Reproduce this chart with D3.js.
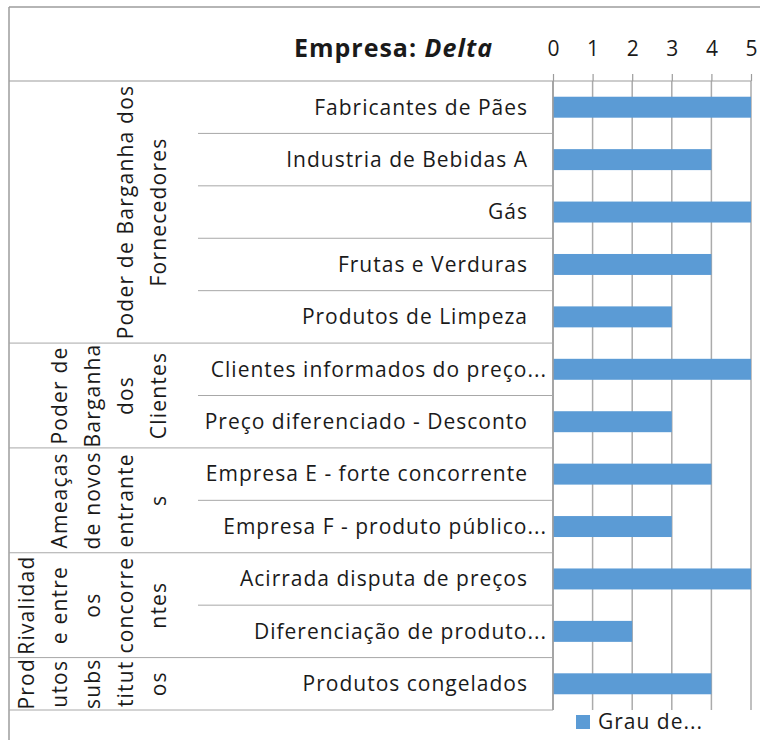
<!DOCTYPE html>
<html>
<head>
<meta charset="utf-8">
<script src="https://cdn.jsdelivr.net/npm/d3@7"></script>
<style>
  body { margin: 0; background: #fff; }
  svg text { font-family: "Open Sans", sans-serif; fill: #1a1a1a; }
</style>
</head>
<body>
<svg id="chart" width="760" height="740"></svg>
<script>
// data
const categories = [
  "Fabricantes de Pães", "Industria de Bebidas A", "Gás", "Frutas e Verduras",
  "Produtos de Limpeza", "Clientes informados do preço...", "Preço diferenciado - Desconto",
  "Empresa E - forte concorrente", "Empresa F - produto público...",
  "Acirrada disputa de preços", "Diferenciação de produto...", "Produtos congelados"
];
const values = [5, 4, 5, 4, 3, 5, 3, 4, 3, 5, 2, 4];
const groupNames = [
  "Poder de Barganha dos Fornecedores", "Poder de Barganha dos Clientes",
  "Ameaças de novos entrantes", "Rivalidade entre os concorrentes", "Produtos substitutos"
];
// as wrapped in the picture
const groupLines = [
  ["Poder de Barganha dos", "Fornecedores"],
  ["Poder de", "Barganha", "dos", "Clientes"],
  ["Ameaças", "de novos", "entrante", "s"],
  ["Rivalidad", "e entre", "os", "concorre", "ntes"],
  ["Prod", "utos", "subs", "titut", "os"]
];
const groupSizes = [5, 2, 2, 2, 1];
const ticks = [0, 1, 2, 3, 4, 5];
const seriesName = "Grau de...";

const svg = d3.select("#chart");
const plotL = 553, plotR = 751, plotT = 81, plotB = 710;
const frameX = 9, frameY = 7, innerX = 198;

const x = d3.scaleLinear().domain([0, 5]).range([plotL, plotR]);
const y = d3.scaleBand().domain(categories).range([plotT, plotB])
  .paddingInner(0.6).paddingOuter(0.3);
const step = y.step();

// frame
svg.append("line").attr("x1", frameX).attr("x2", frameX).attr("y1", frameY).attr("y2", 740)
  .attr("stroke", "#9c9c9c").attr("stroke-width", 1.5);
svg.append("line").attr("x1", frameX).attr("x2", 760).attr("y1", frameY).attr("y2", frameY)
  .attr("stroke", "#9c9c9c").attr("stroke-width", 1.5);

// gridlines
svg.append("g").selectAll("line").data(ticks).join("line")
  .attr("x1", d => x(d)).attr("x2", d => x(d))
  .attr("y1", plotT).attr("y2", plotB)
  .attr("stroke", "#ababab").attr("stroke-width", 1.5);

// bars
svg.append("g").selectAll("rect").data(categories).join("rect")
  .attr("x", x(0))
  .attr("y", d => y(d))
  .attr("width", (d, i) => x(values[i]) - x(0))
  .attr("height", y.bandwidth())
  .attr("fill", "#5b9bd5");

// value axis on top
const xAxis = d3.axisTop(x).tickValues(ticks).tickSize(7).tickPadding(18).tickFormat(d3.format("d"));
const ax = svg.append("g").attr("transform", "translate(0," + plotT + ")").call(xAxis);
ax.select(".domain").remove();
ax.selectAll(".tick line").attr("stroke", "#9c9c9c").attr("stroke-width", 1.2);
ax.selectAll(".tick text").style("font-size", "21px").attr("fill", "#1a1a1a");
svg.append("line").attr("x1", frameX).attr("x2", plotR).attr("y1", plotT).attr("y2", plotT)
  .attr("stroke", "#9c9c9c").attr("stroke-width", 1.2);

// category axis line
svg.append("line").attr("x1", plotL).attr("x2", plotL).attr("y1", plotT).attr("y2", plotB)
  .attr("stroke", "#9c9c9c").attr("stroke-width", 1.5);

// row separators and labels
const starts = [];
let acc = 0;
groupSizes.forEach(n => { starts.push(acc); acc += n; });

svg.append("g").selectAll("line").data(d3.range(1, categories.length + 1)).join("line")
  .attr("x1", i => starts.includes(i) || i === categories.length ? frameX : innerX)
  .attr("x2", plotL)
  .attr("y1", i => y(categories[i - 1]) + y.bandwidth() / 2 + step / 2)
  .attr("y2", i => y(categories[i - 1]) + y.bandwidth() / 2 + step / 2)
  .attr("stroke", "#a8a8a8").attr("stroke-width", 1);

// truncated labels run closer to the axis
svg.append("g").selectAll("text").data(categories).join("text")
  .attr("x", d => d.endsWith("...") ? 547 : 528)
  .attr("y", d => y(d) + y.bandwidth() / 2)
  .attr("dy", "0.35em")
  .attr("text-anchor", "end")
  .style("font-size", "21px")
  .style("letter-spacing", "1px")
  .text(d => d);

// group labels, rotated
groupNames.forEach((g, gi) => {
  const first = categories[starts[gi]];
  const last = categories[starts[gi] + groupSizes[gi] - 1];
  const cy = (y(first) + y(last) + y.bandwidth()) / 2;
  const lines = groupLines[gi];
  lines.forEach((ln, li) => {
    const cx = 159 - (lines.length - 1 - li) * 33;
    svg.append("text")
      .attr("transform", "translate(" + cx + "," + cy + ") rotate(-90)")
      .attr("text-anchor", "middle")
      .attr("dy", "0.35em")
      .style("font-size", "21px")
      .style("letter-spacing", "1.2px")
      .text(ln);
  });
});

// title
const title = svg.append("text").attr("x", 493).attr("y", 57)
  .attr("text-anchor", "end").style("font-size", "25px").style("font-weight", "bold")
  .style("letter-spacing", "1px");
title.append("tspan").text("Empresa: ");
title.append("tspan").style("font-style", "italic").text("Delta");

// legend
const legend = svg.append("g").attr("transform", "translate(576,715)");
legend.append("rect").attr("width", 14).attr("height", 14).attr("fill", "#5b9bd5");
legend.append("text").attr("x", 22).attr("y", 14).style("font-size", "21px")
  .style("letter-spacing", "1px").text(seriesName);
</script>
</body>
</html>
